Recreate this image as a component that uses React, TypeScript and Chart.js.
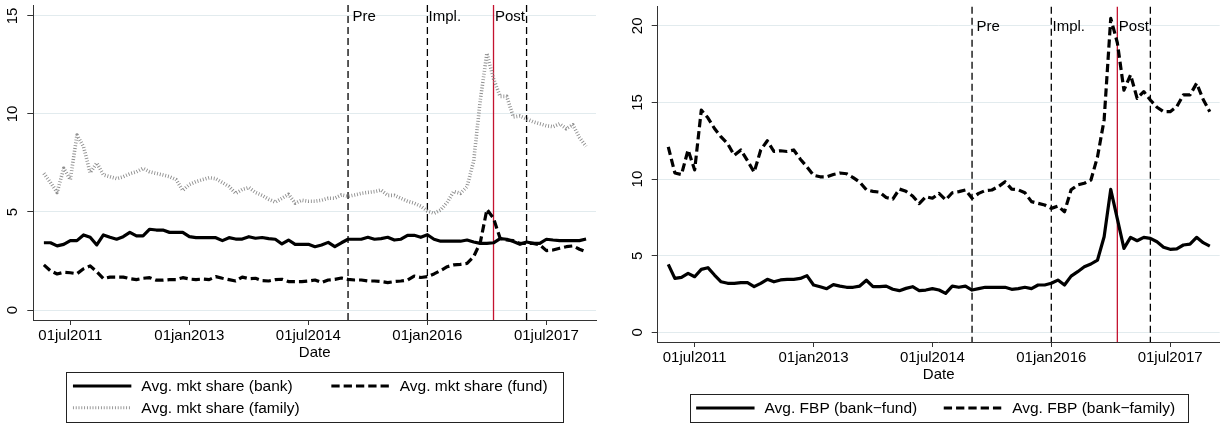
import React, { useEffect, useRef } from 'react';
import { Chart, registerables } from 'chart.js';

Chart.register(...registerables);

// Monthly observations, months counted from January 2011 (0 = Jan 2011).
// First observation is March 2011, last is January 2018.
const FIRST_MONTH = 2;

// Left panel: average market shares
const bankShare = [
  3.43, 3.43, 3.27, 3.35, 3.54, 3.54, 3.83, 3.71, 3.32, 3.83,
  3.71, 3.61, 3.74, 3.96, 3.78, 3.78, 4.12, 4.08, 4.08, 3.96,
  3.96, 3.96, 3.74, 3.69, 3.69, 3.69, 3.69, 3.54, 3.69, 3.62,
  3.62, 3.74, 3.66, 3.70, 3.64, 3.61, 3.37, 3.57, 3.35, 3.35,
  3.35, 3.23, 3.32, 3.45, 3.23, 3.43, 3.61, 3.61, 3.61, 3.71,
  3.61, 3.64, 3.71, 3.57, 3.61, 3.81, 3.81, 3.71, 3.84, 3.61,
  3.51, 3.51, 3.51, 3.51, 3.57, 3.47, 3.40, 3.40, 3.43, 3.64,
  3.61, 3.49, 3.35, 3.47, 3.40, 3.40, 3.61, 3.57, 3.54, 3.54,
  3.54, 3.54, 3.62,
];
const fundShare = [
  2.30, 2.00, 1.84, 1.92, 1.90, 1.85, 2.10, 2.25, 1.95, 1.60,
  1.68, 1.68, 1.68, 1.60, 1.55, 1.62, 1.65, 1.52, 1.52, 1.55,
  1.55, 1.65, 1.58, 1.55, 1.58, 1.55, 1.70, 1.62, 1.55, 1.48,
  1.68, 1.60, 1.62, 1.50, 1.48, 1.55, 1.57, 1.45, 1.45, 1.45,
  1.48, 1.53, 1.40, 1.53, 1.56, 1.63, 1.56, 1.53, 1.53, 1.48,
  1.48, 1.45, 1.40, 1.45, 1.48, 1.53, 1.73, 1.66, 1.70, 1.84,
  2.01, 2.21, 2.30, 2.33, 2.38, 2.72, 3.44, 5.13, 4.68, 3.66,
  3.57, 3.54, 3.40, 3.40, 3.40, 3.32, 3.03, 3.06, 3.15, 3.23,
  3.27, 3.10, 2.97,
];
const familyShare = [
  6.97, 6.50, 6.00, 7.23, 6.65, 8.93, 8.33, 7.00, 7.50, 6.90,
  6.80, 6.70, 6.80, 6.95, 7.05, 7.23, 7.05, 6.97, 6.89, 6.80,
  6.65, 6.10, 6.40, 6.55, 6.65, 6.75, 6.70, 6.50, 6.30, 5.95,
  6.15, 6.25, 6.00, 5.85, 5.65, 5.50, 5.70, 5.90, 5.45, 5.60,
  5.55, 5.55, 5.60, 5.70, 5.70, 5.87, 5.80, 5.87, 5.95, 6.00,
  6.04, 6.12, 5.85, 5.85, 5.70, 5.55, 5.45, 5.30, 5.05, 4.93,
  5.10, 5.50, 6.05, 5.95, 6.30, 7.60, 10.70, 13.10, 11.80, 10.90,
  10.90, 9.85, 9.90, 9.75, 9.60, 9.50, 9.40, 9.35, 9.50, 9.25,
  9.45, 8.80, 8.35,
];

// Right panel: average FBP
const fbpBankFund = [
  4.44, 3.52, 3.59, 3.85, 3.63, 4.11, 4.22, 3.74, 3.30, 3.20,
  3.20, 3.24, 3.24, 2.98, 3.20, 3.46, 3.30, 3.42, 3.46, 3.46,
  3.52, 3.70, 3.09, 2.98, 2.85, 3.11, 3.02, 2.94, 2.94, 3.02,
  3.40, 2.98, 2.98, 3.02, 2.81, 2.72, 2.87, 2.98, 2.72, 2.76,
  2.85, 2.76, 2.54, 3.02, 2.94, 3.02, 2.76, 2.85, 2.94, 2.94,
  2.94, 2.94, 2.81, 2.85, 2.94, 2.85, 3.09, 3.09, 3.20, 3.41,
  3.09, 3.67, 3.96, 4.28, 4.46, 4.72, 6.24, 9.33, 7.40, 5.48,
  6.20, 5.98, 6.20, 6.13, 5.91, 5.55, 5.42, 5.45, 5.70, 5.76,
  6.20, 5.85, 5.63,
];
const fbpBankFamily = [
  12.10, 10.40, 10.30, 11.90, 10.60, 14.50, 14.00, 13.30, 12.75, 12.30,
  11.55, 11.90, 11.20, 10.45, 11.90, 12.50, 11.80, 11.85, 11.80, 11.90,
  11.30, 10.80, 10.25, 10.15, 10.15, 10.30, 10.40, 10.35, 10.10, 9.80,
  9.30, 9.20, 9.15, 8.80, 8.70, 9.35, 9.20, 8.90, 8.40, 8.85,
  8.75, 9.07, 8.64, 9.11, 9.18, 9.29, 8.75, 9.07, 9.25, 9.29,
  9.51, 9.83, 9.35, 9.30, 9.11, 8.53, 8.42, 8.31, 8.09, 8.24,
  7.87, 9.30, 9.62, 9.73, 9.94, 11.46, 13.86, 20.49, 18.90, 15.80,
  16.80, 15.27, 15.71, 15.16, 14.69, 14.40, 14.40, 14.73, 15.49, 15.49,
  16.25, 15.20, 14.40,
];

// Date axis
const xTickMonths = [6, 24, 42, 60, 78];
const xTickLabels = ['01jul2011', '01jan2013', '01jul2014', '01jan2016', '01jul2017'];
const xAxisMin = 0.4;
const xAxisMax = 85.5;

// Event markers (months from January 2011)
const dashedEventMonths = [48, 60, 75];
const redEventMonth = 70;
const eventLabels = ['Pre', 'Impl.', 'Post'];
const eventLabelMonths = [48, 60, 70];

const leftYTicks = [0, 5, 10, 15];
const rightYTicks = [0, 5, 10, 15, 20];

// ---------- styles ----------
const FONT = '"Liberation Sans", Arial, Helvetica, sans-serif';
const AXIS_COLOR = '#333333';
const GRID_COLOR = '#e2ebee';
const RED = '#c4122f';
const EVENT_LABEL_OFFSETS = [4.5, 1.2, 1.5];

type LineStyle = { color: string; width: number; dash: number[] };
const SOLID: LineStyle = { color: '#000000', width: 3.2, dash: [] };
const DASHED: LineStyle = { color: '#000000', width: 3.2, dash: [8.3, 4] };
const HATCHED: LineStyle = { color: '#8e8e8e', width: 3.6, dash: [0.9, 1.9] };

type Series = { label: string; values: number[]; style: LineStyle };

type PanelSpec = {
  left: number;
  width: number;
  series: Series[];
  yMin: number;
  yMax: number;
  yTicks: number[];
  yAxisWidth: number;
  padTop: number;
  padRight: number;
  padBottom: number;
  eventLabelY: number;
  legendWidth: number;
  legendColStep: number;
};

const leftPanel: PanelSpec = {
  left: 0,
  width: 612,
  series: [
    { label: 'Avg. mkt share (bank)', values: bankShare, style: SOLID },
    { label: 'Avg. mkt share (fund)', values: fundShare, style: DASHED },
    { label: 'Avg. mkt share (family)', values: familyShare, style: HATCHED },
  ],
  yMin: -0.51,
  yMax: 15.56,
  yTicks: leftYTicks,
  yAxisWidth: 33.3,
  padTop: 5,
  padRight: 16,
  padBottom: 62,
  eventLabelY: 15,
  legendWidth: 496.6,
  legendColStep: 258.4,
};

const rightPanel: PanelSpec = {
  left: 612,
  width: 613,
  series: [
    { label: 'Avg. FBP (bank\u2212fund)', values: fbpBankFund, style: SOLID },
    { label: 'Avg. FBP (bank\u2212family)', values: fbpBankFamily, style: DASHED },
  ],
  yMin: -0.63,
  yMax: 21.25,
  yTicks: rightYTicks,
  yAxisWidth: 45.7,
  padTop: 6.7,
  padRight: 5.3,
  padBottom: 40,
  eventLabelY: 20,
  legendWidth: 498.3,
  legendColStep: 247.6,
};

const toPoints = (values: number[]) => values.map((v, i) => ({ x: FIRST_MONTH + i, y: v }));

function makeDecor(spec: PanelSpec) {
  return {
    id: 'panelDecor',
    beforeDatasetsDraw(chart: any) {
      const { ctx, chartArea } = chart;
      const xs = chart.scales.x;
      ctx.save();
      ctx.lineWidth = 1.3;
      ctx.strokeStyle = '#000000';
      ctx.setLineDash([7, 4]);
      for (const m of dashedEventMonths) {
        const px = xs.getPixelForValue(m);
        ctx.beginPath();
        ctx.moveTo(px, chartArea.top);
        ctx.lineTo(px, chartArea.bottom);
        ctx.stroke();
      }
      ctx.setLineDash([]);
      ctx.strokeStyle = RED;
      const rx = xs.getPixelForValue(redEventMonth);
      ctx.beginPath();
      ctx.moveTo(rx, chartArea.top);
      ctx.lineTo(rx, chartArea.bottom);
      ctx.stroke();
      ctx.restore();
    },
    afterDraw(chart: any) {
      const { ctx, chartArea } = chart;
      const xs = chart.scales.x;
      const ys = chart.scales.y;
      ctx.save();
      ctx.fillStyle = '#000000';

      // event labels
      ctx.font = `15px ${FONT}`;
      ctx.textAlign = 'left';
      ctx.textBaseline = 'middle';
      const ly = ys.getPixelForValue(spec.eventLabelY);
      eventLabels.forEach((t, i) => {
        ctx.fillText(t, xs.getPixelForValue(eventLabelMonths[i]) + EVENT_LABEL_OFFSETS[i], ly + 1);
      });

      // vertical y tick labels
      ctx.textAlign = 'center';
      for (const t of ys.ticks) {
        const py = ys.getPixelForValue(t.value);
        ctx.save();
        ctx.translate(chartArea.left - 20, py);
        ctx.rotate(-Math.PI / 2);
        ctx.fillText(String(t.value), 0, 0);
        ctx.restore();
      }

      // boxed legend, two columns
      const items = spec.series;
      const rows = Math.ceil(items.length / 2);
      const cx = (chartArea.left + chartArea.right) / 2;
      const boxLeft = cx - spec.legendWidth / 2;
      const boxTop = chartArea.bottom + 52;
      const boxH = 6.3 + 21.7 * rows;
      ctx.lineWidth = 1;
      ctx.strokeStyle = '#222222';
      ctx.setLineDash([]);
      ctx.strokeRect(Math.round(boxLeft) + 0.5, Math.round(boxTop) + 0.5, Math.round(spec.legendWidth), Math.round(boxH));
      ctx.font = `15.5px ${FONT}`;
      ctx.textAlign = 'left';
      ctx.textBaseline = 'middle';
      items.forEach((it, i) => {
        const col = i % 2;
        const row = Math.floor(i / 2);
        const x0 = boxLeft + 6.6 + col * spec.legendColStep;
        const y = boxTop + 14 + row * 21.7;
        ctx.save();
        ctx.strokeStyle = it.style.color;
        ctx.lineWidth = it.style === HATCHED ? 3 : it.style.width;
        ctx.setLineDash(it.style.dash);
        ctx.beginPath();
        ctx.moveTo(x0, y);
        ctx.lineTo(x0 + 58.4, y);
        ctx.stroke();
        ctx.restore();
        ctx.fillText(it.label, x0 + 68.4, y + 1);
      });
      ctx.restore();
    },
  };
}

function Panel({ spec }: { spec: PanelSpec }) {
  const ref = useRef<HTMLCanvasElement | null>(null);
  useEffect(() => {
    const canvas = ref.current;
    if (!canvas) return;
    Chart.defaults.font.family = FONT;
    const chart = new Chart(canvas, {
      type: 'line',
      data: {
        datasets: spec.series.map((s) => ({
          label: s.label,
          data: toPoints(s.values),
          borderColor: s.style.color,
          borderWidth: s.style.width,
          borderDash: s.style.dash,
          borderJoinStyle: 'round',
          borderCapStyle: 'butt',
          pointRadius: 0,
          tension: 0,
          fill: false,
        })),
      },
      options: {
        animation: false,
        responsive: false,
        maintainAspectRatio: false,
        devicePixelRatio: 1,
        layout: { padding: { left: 0, right: spec.padRight, top: spec.padTop, bottom: spec.padBottom } },
        plugins: { legend: { display: false }, tooltip: { enabled: false } },
        scales: {
          x: {
            type: 'linear',
            min: xAxisMin,
            max: xAxisMax,
            afterBuildTicks: (scale: any) => {
              scale.ticks = xTickMonths.map((v) => ({ value: v }));
            },
            afterFit: (scale: any) => {
              scale.height = 42;
            },
            ticks: {
              autoSkip: false,
              maxRotation: 0,
              minRotation: 0,
              padding: 2,
              color: '#000000',
              font: { size: 15, family: FONT },
              callback: (_v: any, i: number) => xTickLabels[i],
            },
            grid: {
              drawOnChartArea: false,
              drawTicks: true,
              tickLength: 5,
              tickColor: AXIS_COLOR,
              tickWidth: 1,
            },
            border: { display: true, color: AXIS_COLOR, width: 1 },
            title: {
              display: true,
              text: 'Date',
              color: '#000000',
              font: { size: 15, family: FONT },
              padding: { top: 0, bottom: 0 },
            },
          },
          y: {
            type: 'linear',
            min: spec.yMin,
            max: spec.yMax,
            afterBuildTicks: (scale: any) => {
              scale.ticks = spec.yTicks.map((v) => ({ value: v }));
            },
            afterFit: (scale: any) => {
              scale.width = spec.yAxisWidth;
            },
            ticks: { display: false },
            grid: {
              color: GRID_COLOR,
              lineWidth: 1,
              drawTicks: true,
              tickLength: 6,
              tickColor: AXIS_COLOR,
              tickWidth: 1,
            },
            border: { display: true, color: AXIS_COLOR, width: 1 },
          },
        },
      },
      plugins: [makeDecor(spec)],
    } as any);
    return () => chart.destroy();
  }, [spec]);
  return (
    <canvas
      ref={ref}
      width={spec.width}
      height={424}
      style={{ position: 'absolute', left: spec.left, top: 0, width: spec.width, height: 424 }}
    />
  );
}

export default function App() {
  return (
    <div style={{ position: 'absolute', left: 0, top: 0, width: 1225, height: 424, background: '#ffffff', overflow: 'hidden' }}>
      <Panel spec={leftPanel} />
      <Panel spec={rightPanel} />
    </div>
  );
}
